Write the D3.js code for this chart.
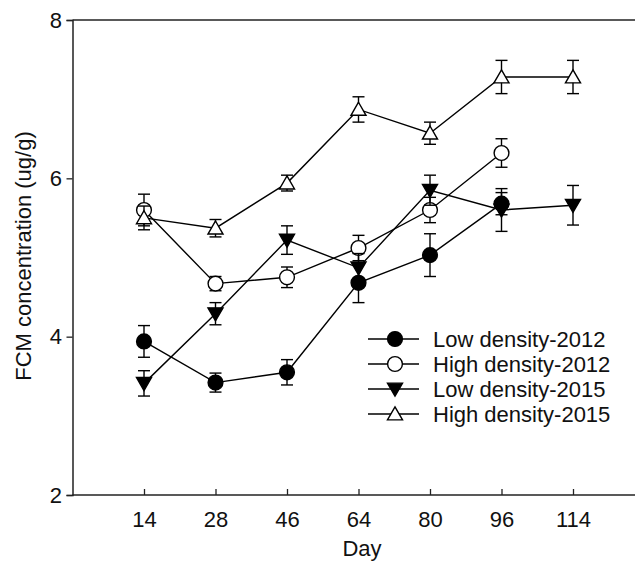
<!DOCTYPE html>
<html><head><meta charset="utf-8">
<script src="https://cdn.jsdelivr.net/npm/d3@7"></script>
<style>body{margin:0;background:#fff}svg{display:block}text{font-family:Arial,"Liberation Sans",sans-serif;fill:#111}</style>
</head><body><div id="chart"></div>
<script>
const days = ["14","28","46","64","80","96","114"];
const yTicks = [2,4,6,8];
const seriesNames = ["Low density-2012","High density-2012","Low density-2015","High density-2015"];
const low2012 = [3.94,3.42,3.55,4.68,5.03,5.68];
const low2012Err = [0.20,0.12,0.16,0.25,0.27,0.14];
const high2012 = [5.60,4.67,4.75,5.12,5.60,6.32];
const high2012Err = [0.20,0.09,0.13,0.16,0.16,0.18];
const low2015 = [3.41,4.29,5.22,4.87,5.85,5.60,5.66];
const low2015Err = [0.16,0.14,0.18,0.18,0.19,0.27,0.25];
const high2015 = [5.50,5.37,5.94,6.87,6.57,7.28,7.28];
const high2015Err = [0.15,0.11,0.10,0.16,0.14,0.21,0.21];

const W=635,H=562,FS="22px";
const svg=d3.select("#chart").append("svg").attr("width",W).attr("height",H);
const x=d3.scaleLinear().domain([0,days.length+1]).range([72.5,644.5]);
const y=d3.scaleLinear().domain([2,8]).range([495,20]);

const series=[
 {name:seriesNames[0],v:low2012,e:low2012Err,shape:"circle",fill:"#000"},
 {name:seriesNames[1],v:high2012,e:high2012Err,shape:"circle",fill:"#fff"},
 {name:seriesNames[2],v:low2015,e:low2015Err,shape:"down",fill:"#000"},
 {name:seriesNames[3],v:high2015,e:high2015Err,shape:"up",fill:"#fff"}
];
const sym={circle:d3.symbol().type(d3.symbolCircle).size(Math.PI*7.4*7.4),
 up:d3.symbol().type(d3.symbolTriangle).size(98),
 down:d3.symbol().type(d3.symbolTriangle).size(98)};
function marker(g,s,cx,cy){
  let t=`translate(${cx},${cy})`;
  if(s.shape==="down") t+=" rotate(180)";
  if(s.shape!=="circle") t+=" translate(0,1.5)";
  g.append("path").attr("d",sym[s.shape]()).attr("transform",t)
   .attr("fill",s.fill).attr("stroke","#000").attr("stroke-width",1.4);
}

svg.append("line").attr("x1",72.5).attr("x2",W).attr("y1",20).attr("y2",20).attr("stroke","#222").attr("stroke-width",1.5);

const yAxis=svg.append("g").attr("transform","translate(72.5,0)")
 .call(d3.axisLeft(y).tickValues(yTicks).tickSize(6).tickPadding(4.5).tickFormat(d3.format("d")));
const xAxis=svg.append("g").attr("transform","translate(0,495)")
 .call(d3.axisBottom(x).tickValues(days.map((d,i)=>i+1)).tickSize(-6).tickPadding(14).tickFormat(i=>days[i-1]));
[yAxis,xAxis].forEach(a=>{a.select(".domain").attr("stroke","#222").attr("stroke-width",1.5);
 a.selectAll(".tick line").attr("stroke","#222").attr("stroke-width",1.3);
 a.selectAll(".tick text").style("font-size",FS).attr("fill","#111");});
xAxis.select(".domain").attr("d",`M72.5,0H${W}`);
xAxis.selectAll(".tick text").attr("y",32).attr("dy",0);

svg.append("text").attr("transform","translate(31,256) rotate(-90)").attr("text-anchor","middle")
 .style("font-size",FS).text("FCM concentration (ug/g)");
svg.append("text").attr("x",362).attr("y",556).attr("text-anchor","middle")
 .style("font-size",FS).text("Day");

const line=d3.line().x((d,i)=>x(i+1)).y(d=>y(d));
series.forEach(s=>{
  const g=svg.append("g");
  g.append("path").attr("d",line(s.v)).attr("fill","none").attr("stroke","#000").attr("stroke-width",1.4);
  s.v.forEach((v,i)=>{
    const cx=x(i+1),t=y(v+s.e[i]),b=y(v-s.e[i]);
    g.append("line").attr("x1",cx).attr("x2",cx).attr("y1",t).attr("y2",b).attr("stroke","#000").attr("stroke-width",1.4);
    [t,b].forEach(yy=>g.append("line").attr("x1",cx-6).attr("x2",cx+6).attr("y1",yy).attr("y2",yy).attr("stroke","#000").attr("stroke-width",1.4));
  });
  s.v.forEach((v,i)=>marker(g,s,x(i+1),y(v)));
});

const lg=svg.append("g");
series.forEach((s,i)=>{
  const yy=339+i*25;
  lg.append("line").attr("x1",368).attr("x2",419).attr("y1",yy).attr("y2",yy).attr("stroke","#000").attr("stroke-width",1.4);
  marker(lg,s,395,yy);
  lg.append("text").attr("x",433).attr("y",yy).attr("dy","0.35em").style("font-size",FS).text(s.name);
});
</script></body></html>
